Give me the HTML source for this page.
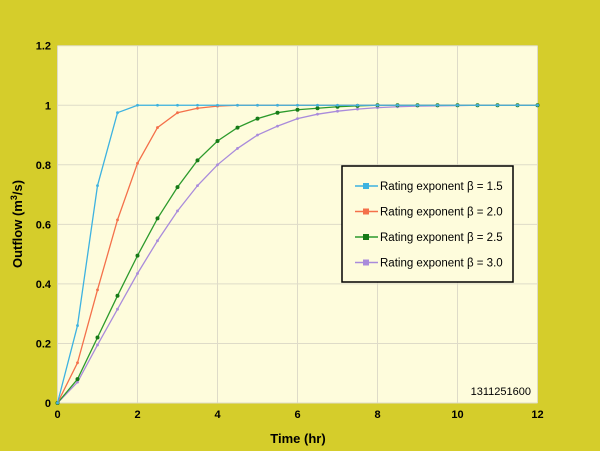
<!DOCTYPE html>
<html><head><meta charset="utf-8"><style>
body{margin:0;background:#d5cd2b;}
svg{display:block;font-family:"Liberation Sans",Arial,sans-serif;}
</style></head><body>
<svg width="600" height="451">
<rect x="0" y="0" width="600" height="451" fill="#d5cd2b"/>
<rect x="57.5" y="45.7" width="480" height="357.3" fill="#fefcdc"/>
<g id="grid"></g><g id="series"></g><g id="ticks"></g>
<text x="298" y="443" text-anchor="middle" font-size="13" font-weight="bold">Time (hr)</text>
<text transform="translate(22,224) rotate(-90)" text-anchor="middle" font-size="13" font-weight="bold">Outflow (m<tspan font-size="9" dy="-5">3</tspan><tspan dy="5">/s)</tspan></text>
<text x="531" y="395" text-anchor="end" font-size="11">1311251600</text>
<g>
<rect x="342" y="166" width="171" height="116" fill="#fefcdc" stroke="#000" stroke-width="1.5"/>
<g id="legend"></g>
</g>
</svg>
<script>
const times=[0,0.5,1,1.5,2,2.5,3,3.5,4,4.5,5,5.5,6,6.5,7,7.5,8,8.5,9,9.5,10,10.5,11,11.5,12];
const b15=[0,0.26,0.73,0.975,1,1,1,1,1,1,1,1,1,1,1,1,1,1,1,1,1,1,1,1,1];
const b20=[0,0.135,0.38,0.615,0.805,0.925,0.975,0.99,0.997,1,1,1,1,1,1,1,1,1,1,1,1,1,1,1,1];
const b25=[0,0.08,0.22,0.36,0.495,0.62,0.725,0.815,0.88,0.925,0.955,0.975,0.985,0.99,0.995,0.998,1,1,1,1,1,1,1,1,1];
const b30=[0,0.07,0.195,0.315,0.435,0.545,0.645,0.73,0.8,0.855,0.9,0.93,0.955,0.97,0.98,0.987,0.992,0.995,0.997,0.998,0.999,1,1,1,1];
const xTicks=[0,2,4,6,8,10,12];
const yTicks=[0,0.2,0.4,0.6,0.8,1,1.2];
const yLabels=["0","0.2","0.4","0.6","0.8","1","1.2"];
const seriesNames=["Rating exponent β = 1.5","Rating exponent β = 2.0","Rating exponent β = 2.5","Rating exponent β = 3.0"];
const NS="http://www.w3.org/2000/svg";
const X=t=>57.5+t*40, Y=v=>403-v*297.75;
function mk(tag,attrs,parent){const e=document.createElementNS(NS,tag);for(const k in attrs)e.setAttribute(k,attrs[k]);parent.appendChild(e);return e;}
const grid=document.getElementById('grid'),ticks=document.getElementById('ticks'),ser=document.getElementById('series'),leg=document.getElementById('legend');
xTicks.forEach(t=>{
 const l=mk('line',{x1:X(t),x2:X(t),y1:45.7,y2:403,stroke:'#dedbc8','stroke-width':1},grid);
 
 
 const tx=mk('text',{x:X(t),y:418,'text-anchor':'middle','font-size':11,'font-weight':'bold'},ticks);tx.textContent=t;
 
 
});
yTicks.forEach((v,i)=>{
 const l=mk('line',{x1:57.5,x2:537.5,y1:Y(v),y2:Y(v),stroke:'#dedbc8','stroke-width':1},grid);
 
 
 const tx=mk('text',{x:51,y:Y(v)+4,'text-anchor':'end','font-size':11,'font-weight':'bold'},ticks);tx.textContent=yLabels[i];
 
 
});
const all=[b30,b25,b20,b15],cols=['#a98bdb','#2c9a2c','#f4704a','#3db2e0'],names=['series-beta-3-0','series-beta-2-5','series-beta-2-0','series-beta-1-5'];
all.forEach((s,k)=>{
 const p=mk('polyline',{points:s.map((v,i)=>X(times[i])+','+Y(v)).join(' '),fill:'none',stroke:cols[k],'stroke-width':1.3},ser);
 
 
 s.forEach((v,i)=>{const c=mk('circle',{cx:X(times[i]),cy:Y(v),r:k==1?2:1.4,fill:k==1?'#177a17':cols[k]},ser);
  
  });
});
const lc=['#3db2e0','#f4704a','#2c9a2c','#a98bdb'];
seriesNames.forEach((n,i)=>{
 const y=186+i*25.5;
 const l=mk('line',{x1:355,x2:378,y1:y,y2:y,stroke:lc[i],'stroke-width':1.5},leg);
 
 
 const m=mk('rect',{x:363,y:y-3,width:6,height:6,fill:i==2?'#177a17':lc[i]},leg);
 
 
 const t=mk('text',{x:380,y:y+4,'font-size':11.5},leg);t.textContent=n;
 
 
});
</script>
</body></html>
